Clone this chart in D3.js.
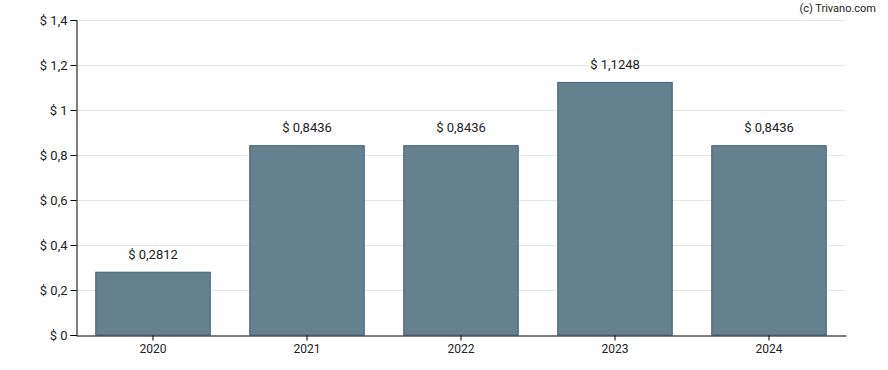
<!DOCTYPE html>
<html>
<head>
<meta charset="UTF-8">
<script src="https://d3js.org/d3.v7.min.js"></script>
<style>
  body { margin: 0; background: #fff; }
  svg text { font-family: Roboto, "Liberation Sans", sans-serif; fill: #222; }
</style>
</head>
<body>
<svg id="chart" width="888" height="370"></svg>
<script>
// data
const years = ["2020", "2021", "2022", "2023", "2024"];
const dividends = [0.2812, 0.8436, 0.8436, 1.1248, 0.8436];
const yTicks = [0, 0.2, 0.4, 0.6, 0.8, 1, 1.2, 1.4];

const svg = d3.select("#chart");
const plotL = 76, plotR = 846, plotT = 20, plotB = 335;

const fmt = v => "$ " + String(v).replace(".", ",");

const x = d3.scaleBand().domain(years).range([plotL, plotR])
  .paddingInner(0.25).paddingOuter(0.125);
const y = d3.scaleLinear().domain([0, 1.4]).range([plotB, plotT]);

// gridlines
svg.append("g").selectAll("line").data(yTicks.slice(1)).join("line")
  .attr("x1", plotL).attr("x2", plotR - 1)
  .attr("y1", d => Math.round(y(d)) + 0.5).attr("y2", d => Math.round(y(d)) + 0.5)
  .attr("stroke", "#e6e6e6");

// bars
svg.append("g").selectAll("rect").data(dividends).join("rect")
  .attr("x", (d, i) => x(years[i]) + 0.5)
  .attr("y", d => y(d) + 0.5)
  .attr("width", x.bandwidth() - 1)
  .attr("height", d => plotB - y(d) - 0.5)
  .attr("fill", "#65808f")
  .attr("stroke", "#41607a")
  .attr("stroke-width", 1);

// value labels
svg.append("g").selectAll("text").data(dividends).join("text")
  .attr("x", (d, i) => x(years[i]) + x.bandwidth() / 2)
  .attr("y", d => y(d) - 13)
  .attr("text-anchor", "middle")
  .attr("font-size", 13)
  .text(d => fmt(d));

// y axis
const yAxis = svg.append("g").attr("transform", `translate(${plotL + 0.5},0)`)
  .call(d3.axisLeft(y).tickValues(yTicks).tickSize(6).tickPadding(3).tickFormat(fmt));
yAxis.select(".domain").attr("stroke", "#000");
yAxis.selectAll(".tick line").attr("stroke", "#000");
yAxis.selectAll(".tick text").attr("font-size", 13).attr("font-family", null).attr("fill", null);

// x axis
const xAxis = svg.append("g").attr("transform", `translate(0,${plotB + 0.5})`)
  .call(d3.axisBottom(x).tickSize(5).tickSizeOuter(0).tickPadding(4));
xAxis.select(".domain").attr("stroke", "#000");
xAxis.selectAll(".tick line").attr("stroke", "#000");
xAxis.selectAll(".tick text").attr("font-size", 12).attr("font-family", null).attr("fill", null);

// credit
svg.append("text").attr("x", 876).attr("y", 12)
  .attr("text-anchor", "end").attr("font-size", 11)
  .text("(c) Trivano.com");
</script>
</body>
</html>
